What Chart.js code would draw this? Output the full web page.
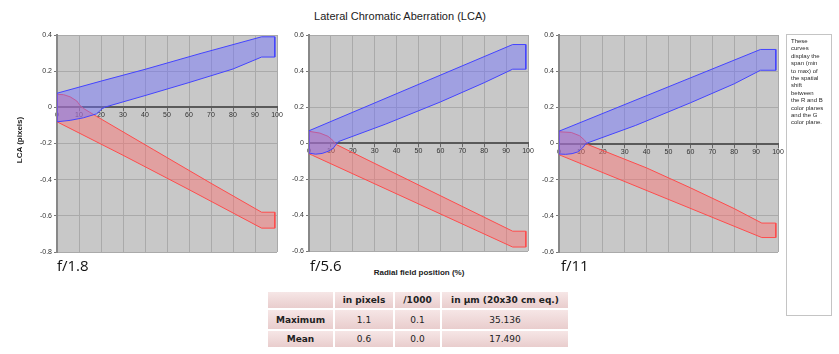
<!DOCTYPE html>
<html>
<head>
<meta charset="utf-8">
<title>Lateral Chromatic Aberration (LCA)</title>
<script src="https://cdn.jsdelivr.net/npm/chart.js@4.4.1/dist/chart.umd.min.js"></script>
<style>
  body { margin: 0; background: #fff; }
  #page {
    position: relative; width: 839px; height: 354px; overflow: hidden;
    font-family: "Liberation Sans", Arial, sans-serif; color: #222;
  }
  .plot { position: absolute; top: 25px; height: 235px; }
  .abs { position: absolute; white-space: nowrap; }
  #title { left: 300px; width: 200px; top: 10px; font-size: 11px; line-height: 13px; text-align: center; }
  #xTitle { left: 360px; width: 118px; top: 268px; font-size: 8px; line-height: 10px; font-weight: bold; text-align: center; }
  #yTitle { left: -10px; width: 60px; top: 135px; font-size: 8px; line-height: 10px; font-weight: bold; text-align: center; transform: rotate(-90deg); }
  .fnum { top: 258px; font-family: "Open Sans", sans-serif; font-size: 15px; line-height: 15px; color: #111; }
  #note {
    position: absolute; left: 786px; top: 34px; width: 46px; height: 282px;
    border: 1px solid #c4c4c4; box-sizing: border-box; padding: 3px 0 0 4px;
    font-size: 6px; line-height: 7.4px; color: #2a2a2a; white-space: nowrap;
  }
  #stats {
    position: absolute; left: 266px; top: 290px; border-collapse: separate; border-spacing: 2px;
    font-family: "DejaVu Sans", Verdana, sans-serif; font-size: 9px; color: #222;
  }
  #stats td, #stats th {
    background: linear-gradient(#f6e6e6, #e9cdcd); text-align: center; padding: 0;
  }
  #stats th { font-weight: bold; height: 16px; }
  #stats tr.r1 td, #stats tr.r1 th { height: 19px; }
  #stats tr.r2 td, #stats tr.r2 th { height: 16px; }
</style>
</head>
<body>
<div id="page">
  <div id="title" class="abs">Lateral Chromatic Aberration (LCA)</div>
  <div class="plot" style="left:0px;width:287px;"><canvas id="lca18"></canvas></div>
  <div class="plot" style="left:287px;width:248px;"><canvas id="lca56"></canvas></div>
  <div class="plot" style="left:537px;width:250px;"><canvas id="lca11"></canvas></div>
  <div id="yTitle" class="abs">LCA (pixels)</div>
  <div id="xTitle" class="abs">Radial field position (%)</div>
  <div class="abs fnum" style="left:57px;" id="f0"></div>
  <div class="abs fnum" style="left:310px;" id="f1"></div>
  <div class="abs fnum" style="left:561px;" id="f2"></div>
  <div id="note">These<br>curves<br>display the<br>span (min<br>to max) of<br>the spatial<br>shift<br>between<br>the R and B<br>color planes<br>and the G<br>color plane.</div>
  <table id="stats">
    <tr><th style="width:65px;"></th><th style="width:58px;">in pixels</th><th style="width:45px;">/1000</th><th style="width:126px;">in µm (20x30 cm eq.)</th></tr>
    <tr class="r1"><th>Maximum</th><td>1.1</td><td>0.1</td><td>35.136</td></tr>
    <tr class="r2"><th>Mean</th><td>0.6</td><td>0.0</td><td>17.490</td></tr>
  </table>
</div>
<script>
// apertures and y ranges for the three panels
const apertures = ["f/1.8", "f/5.6", "f/11"];
const yMin = [-0.8, -0.6, -0.6];
const yMax = [0.4, 0.6, 0.6];

// span of the B plane shift (upper edge, lower edge), [radial %, pixels]
const blueTop18 = [[0, 0.078], [20, 0.145], [40, 0.21], [65, 0.297], [93, 0.39], [99, 0.39]];
const blueLow18 = [[0, -0.08], [6, -0.072], [12, -0.058], [18, -0.036], [20.5, -0.008], [22, 0.002], [40, 0.065], [60, 0.137], [80, 0.212], [93, 0.278], [99, 0.278]];
const blueTop56 = [[0, 0.068], [93, 0.547], [99, 0.547]];
const blueLow56 = [[0, -0.056], [3, -0.062], [6, -0.058], [9, -0.045], [11, -0.03], [12.5, -0.006], [13.5, 0.008], [35, 0.105], [60, 0.228], [80, 0.335], [93, 0.41], [99, 0.41]];
const blueTop11 = [[0, 0.068], [92, 0.52], [99, 0.52]];
const blueLow11 = [[0, -0.058], [3, -0.06], [6, -0.056], [8.5, -0.047], [10.8, -0.024], [12.3, 0], [35, 0.1], [60, 0.225], [80, 0.33], [92, 0.405], [99, 0.405]];

// span of the R plane shift
const redTop18 = [[0, 0.072], [3, 0.07], [6, 0.058], [9, 0.035], [10.5, 0.01], [12, -0.006], [18, -0.05], [44, -0.235], [70, -0.42], [93, -0.58], [99, -0.58]];
const redLow18 = [[0, -0.08], [30, -0.265], [60, -0.455], [93, -0.668], [99, -0.668]];
const redTop56 = [[0, 0.065], [5, 0.055], [8.7, 0.037], [11, 0.013], [12.5, -0.009], [93, -0.49], [99, -0.49]];
const redLow56 = [[0, -0.06], [1.5, -0.068], [93, -0.578], [99, -0.578]];
const redTop11 = [[0, 0.065], [5.6, 0.061], [9.4, 0.043], [11.7, 0.018], [13.2, -0.006], [40, -0.135], [60, -0.245], [80, -0.36], [92.6, -0.44], [99, -0.44]];
const redLow11 = [[0, -0.062], [1, -0.067], [92.6, -0.52], [99, -0.52]];

// closed outline: upper edge left->right, lower edge right->left
function band(top, low) {
  const pts = top.concat(low.slice().reverse(), [top[0]]);
  return pts.map((p) => ({ x: p[0], y: p[1] }));
}

const plotBg = {
  id: "plotBg",
  beforeDraw(chart) {
    const { ctx, chartArea: a } = chart;
    ctx.save();
    ctx.fillStyle = "#c8c8c8";
    ctx.fillRect(a.left, a.top, a.right - a.left, a.bottom - a.top);
    ctx.restore();
  },
};

const tickFont = { family: "Liberation Sans", size: 7 };

function makePanel(id, i, blue, red, yWidth, padding) {
  const ctx = document.getElementById(id).getContext("2d");
  return new Chart(ctx, {
    type: "line",
    data: {
      datasets: [
        {
          data: band(blue[0], blue[1]),
          borderColor: "#4444ff",
          backgroundColor: "rgba(110,110,255,0.45)",
          fill: "shape",
        },
        {
          data: band(red[0], red[1]),
          borderColor: "#ff4c4c",
          backgroundColor: "rgba(255,110,110,0.45)",
          fill: "shape",
        },
      ],
    },
    options: {
      responsive: true,
      maintainAspectRatio: false,
      animation: false,
      layout: { padding },
      elements: { point: { radius: 0 }, line: { borderWidth: 1, tension: 0 } },
      plugins: { legend: { display: false }, tooltip: { enabled: false } },
      scales: {
        x: {
          type: "linear",
          position: { y: 0 },
          min: 0,
          max: 100,
          afterFit(s) { s.paddingLeft = 0; s.paddingRight = 0; },
          ticks: { stepSize: 10, font: tickFont, color: "#333", padding: 1, maxRotation: 0 },
          grid: { color: "#aaaaaa", tickLength: 3, tickColor: "#666" },
          border: { color: "#5a5a5a", width: 2 },
        },
        y: {
          min: yMin[i],
          max: yMax[i],
          afterFit(s) { s.width = yWidth; s.paddingTop = 0; s.paddingBottom = 0; },
          ticks: {
            stepSize: 0.2,
            font: tickFont,
            color: "#333",
            padding: 2,
            callback: (v) => String(Math.round(v * 10) / 10),
          },
          grid: { color: "#aaaaaa", tickLength: 3, tickColor: "#777" },
          border: { color: "#888", width: 2 },
        },
      },
    },
    plugins: [plotBg],
  });
}

apertures.forEach((a, i) => { document.getElementById("f" + i).textContent = a; });

makePanel("lca18", 0, [blueTop18, blueLow18], [redTop18, redLow18], 57, { left: 0, top: 10, right: 10, bottom: 8 });
makePanel("lca56", 1, [blueTop56, blueLow56], [redTop56, redLow56], 22, { left: 0, top: 10, right: 7, bottom: 9 });
makePanel("lca11", 2, [blueTop11, blueLow11], [redTop11, redLow11], 22, { left: 0, top: 10, right: 9, bottom: 8 });
</script>
</body>
</html>
